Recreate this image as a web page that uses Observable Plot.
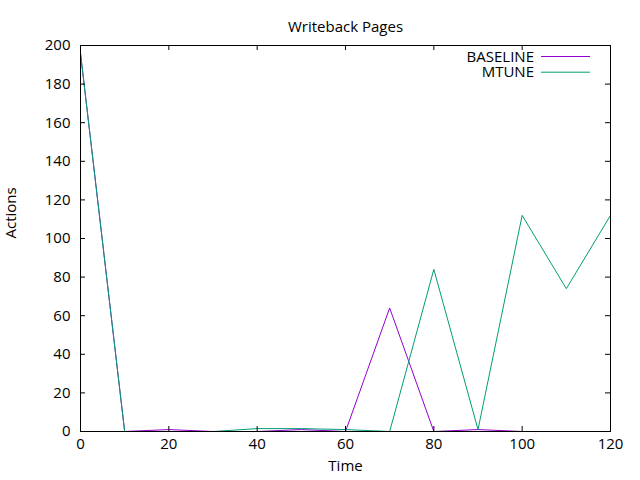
<!DOCTYPE html>
<html>
<head>
<meta charset="utf-8">
<script src="https://cdn.jsdelivr.net/npm/d3@7"></script>
<script src="https://cdn.jsdelivr.net/npm/@observablehq/plot@0.6"></script>
<style>
  html, body { margin: 0; padding: 0; background: #fff; }
  #chart { position: relative; width: 640px; height: 480px; }
</style>
</head>
<body>
<div id="chart"></div>
<script>
const title = "Writeback Pages";
const xLabel = "Time";
const yLabel = "Actions";
const time = [0, 10, 20, 30, 40, 50, 60, 70, 80, 90, 100, 110, 120];
const baseline = [196, 0, 1, 0, 0, 1, 0, 64, 0, 1, 0, 0, 0];
const mtune = [196, 0, 0, 0, 1.5, 1.5, 1, 0, 84, 1, 112, 74, 112];
const seriesNames = ["BASELINE", "MTUNE"];
const seriesColors = ["#9400d3", "#009e73"];
const xTicks = [0, 20, 40, 60, 80, 100, 120];
const yTicks = [0, 20, 40, 60, 80, 100, 120, 140, 160, 180, 200];

const W = 640, H = 480;
const mL = 80, mR = 30, mT = 45, mB = 49;
const innerW = W - mL - mR, innerH = H - mT - mB;
const tick = 5;

const rows = [];
time.forEach((t, i) => {
  rows.push({time: t, value: baseline[i], series: seriesNames[0]});
});
time.forEach((t, i) => {
  rows.push({time: t, value: mtune[i], series: seriesNames[1]});
});

const plot = Plot.plot({
  width: W, height: H,
  marginLeft: mL, marginRight: mR, marginTop: mT, marginBottom: mB,
  style: {fontFamily: "'Open Sans', sans-serif", fontSize: "15px", color: "#000", background: "#fff"},
  x: {domain: [0, 120]},
  y: {domain: [0, 200]},
  color: {domain: seriesNames, range: seriesColors},
  marks: [
    Plot.line(rows, {x: "time", y: "value", z: "series", stroke: "series", strokeWidth: 1}),
    // inward ticks (bottom/top/left/right)
    Plot.ruleX(xTicks, {x: d => d, insetTop: innerH - tick, stroke: "#000"}),
    Plot.ruleX(xTicks, {x: d => d, insetBottom: innerH - tick, stroke: "#000"}),
    Plot.ruleY(yTicks, {y: d => d, insetRight: innerW - tick, stroke: "#000"}),
    Plot.ruleY(yTicks, {y: d => d, insetLeft: innerW - tick, stroke: "#000"}),
    Plot.frame({stroke: "#000"}),
    Plot.axisX(xTicks, {anchor: "bottom", tickSize: 0, tickPadding: 7, label: null, fontSize: 15}),
    Plot.axisY(yTicks, {anchor: "left", tickSize: 0, tickPadding: 10, label: null, fontSize: 15}),
    Plot.text([xLabel], {frameAnchor: "bottom", dy: 39, fontSize: 15}),
    Plot.text([yLabel], {frameAnchor: "left", dx: -69, rotate: -90, fontSize: 15}),
    Plot.text([title], {frameAnchor: "top", dy: -24, fontSize: 15})
  ]
});

document.getElementById("chart").appendChild(plot);

// legend (gnuplot-style key, top-right inside)
const svg = d3.select(plot);
const key = svg.append("g").attr("font-family", "'Open Sans', sans-serif").attr("font-size", 15);
seriesNames.forEach((name, i) => {
  const y = 56.5 + i * 15.7;
  key.append("text").attr("x", 534).attr("y", y).attr("text-anchor", "end")
    .attr("dy", "0.35em").attr("fill", "#000").text(name);
  key.append("line").attr("x1", 541).attr("x2", 590).attr("y1", y).attr("y2", y)
    .attr("stroke", seriesColors[i]).attr("stroke-width", 1);
});
</script>
</body>
</html>
